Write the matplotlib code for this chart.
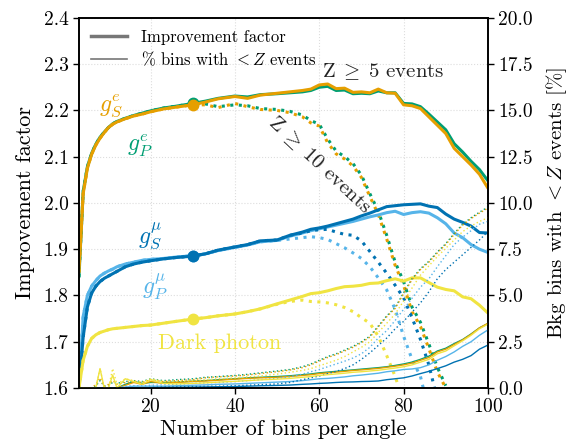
import numpy as np
import matplotlib
matplotlib.use("Agg")
import matplotlib.pyplot as plt
from matplotlib.lines import Line2D

plt.rcParams['font.family'] = 'serif'
plt.rcParams['font.serif'] = ['cmr10', 'DejaVu Serif']
plt.rcParams['mathtext.fontset'] = 'cm'
plt.rcParams['axes.unicode_minus'] = False
plt.rcParams['axes.formatter.use_mathtext'] = True

nan = np.nan

# number of bins per angle
bins = [3, 4, 5, 6, 7, 8, 9, 10, 11, 12, 14, 16, 18, 20, 23, 26, 30, 33, 36, 40,
        43, 46, 50, 53, 56, 58, 60, 62, 64, 66, 68, 70, 72, 74, 76, 78, 80, 82, 84, 86,
        88, 90, 92, 94, 96, 98, 100]

# improvement factor, Z >= 5
imp5_gSe = [1.85, 2.02, 2.075, 2.105, 2.125, 2.14, 2.152, 2.163, 2.17, 2.175,
            2.182, 2.188, 2.192, 2.197, 2.203, 2.207, 2.212, 2.218, 2.225, 2.230,
            2.226, 2.233, 2.237, 2.240, 2.243, 2.246, 2.255, 2.257, 2.247, 2.248,
            2.239, 2.240, 2.238, 2.246, 2.238, 2.237, 2.212, 2.210, 2.204, 2.186,
            2.168, 2.150, 2.118, 2.100, 2.082, 2.062, 2.032]
imp5_gPe = [1.84, 2.025, 2.078, 2.107, 2.127, 2.142, 2.153, 2.163, 2.171, 2.176,
            2.183, 2.189, 2.194, 2.199, 2.205, 2.209, 2.215, 2.220, 2.226, 2.231,
            2.229, 2.234, 2.236, 2.238, 2.240, 2.243, 2.250, 2.252, 2.243, 2.244,
            2.236, 2.237, 2.236, 2.242, 2.238, 2.238, 2.215, 2.214, 2.208, 2.192,
            2.175, 2.158, 2.128, 2.110, 2.090, 2.072, 2.048]
imp5_gSmu = [1.60, 1.71, 1.775, 1.805, 1.82, 1.83, 1.837, 1.842, 1.847, 1.852,
             1.862, 1.868, 1.872, 1.875, 1.879, 1.882, 1.885, 1.890, 1.898, 1.905,
             1.910, 1.918, 1.920, 1.930, 1.937, 1.943, 1.946, 1.950, 1.955, 1.960,
             1.965, 1.972, 1.978, 1.985, 1.992, 1.994, 1.996, 1.997, 1.998, 1.993,
             1.990, 1.976, 1.965, 1.958, 1.950, 1.936, 1.935]
imp5_gPmu = [1.60, 1.755, 1.80, 1.82, 1.832, 1.842, 1.848, 1.853, 1.857, 1.862,
             1.868, 1.872, 1.876, 1.878, 1.880, 1.883, 1.886, 1.890, 1.897, 1.904,
             1.909, 1.916, 1.919, 1.928, 1.935, 1.940, 1.944, 1.948, 1.952, 1.956,
             1.960, 1.965, 1.970, 1.974, 1.979, 1.982, 1.975, 1.979, 1.981, 1.978,
             1.968, 1.955, 1.935, 1.925, 1.910, 1.900, 1.893]
imp5_dp = [1.60, 1.66, 1.69, 1.707, 1.715, 1.72, 1.723, 1.726, 1.728, 1.729,
           1.731, 1.733, 1.735, 1.736, 1.740, 1.744, 1.749, 1.752, 1.756, 1.760,
           1.765, 1.771, 1.782, 1.790, 1.798, 1.804, 1.806, 1.810, 1.815, 1.819,
           1.820, 1.822, 1.826, 1.827, 1.832, 1.836, 1.831, 1.838, 1.838, 1.828,
           1.818, 1.813, 1.810, 1.797, 1.793, 1.779, 1.762]

# improvement factor, Z >= 10
imp10_gSe = [1.85, 2.02, 2.075, 2.105, 2.125, 2.14, 2.152, 2.163, 2.17, 2.175,
             2.182, 2.188, 2.192, 2.197, 2.203, 2.207, 2.212, 2.212, 2.206, 2.215,
             2.208, 2.202, 2.200, 2.195, 2.186, 2.173, 2.166, 2.130, 2.106, 2.095,
             2.080, 2.055, 2.014, 1.975, 1.922, 1.865, 1.822, 1.765, 1.733, 1.685,
             1.635, 1.600, nan, nan, nan, nan, nan]
imp10_gPe = [1.84, 2.025, 2.078, 2.107, 2.127, 2.142, 2.153, 2.163, 2.171, 2.176,
             2.183, 2.189, 2.194, 2.199, 2.205, 2.209, 2.215, 2.214, 2.208, 2.212,
             2.210, 2.204, 2.202, 2.198, 2.190, 2.178, 2.170, 2.138, 2.112, 2.100,
             2.085, 2.060, 2.020, 1.982, 1.930, 1.872, 1.830, 1.775, 1.742, 1.695,
             1.645, 1.605, nan, nan, nan, nan, nan]
imp10_gSmu = [1.60, 1.71, 1.775, 1.805, 1.82, 1.83, 1.837, 1.842, 1.847, 1.852,
              1.862, 1.868, 1.872, 1.875, 1.879, 1.882, 1.885, 1.890, 1.898, 1.905,
              1.910, 1.918, 1.920, 1.930, 1.935, 1.940, 1.942, 1.943, 1.937, 1.932,
              1.930, 1.918, 1.895, 1.872, 1.848, 1.822, 1.795, 1.752, 1.705, 1.650,
              1.575, nan, nan, nan, nan, nan, nan]
imp10_gPmu = [1.60, 1.755, 1.80, 1.82, 1.832, 1.842, 1.848, 1.853, 1.857, 1.862,
              1.868, 1.872, 1.876, 1.878, 1.880, 1.883, 1.886, 1.890, 1.897, 1.904,
              1.909, 1.916, 1.919, 1.922, 1.925, 1.927, 1.925, 1.921, 1.912, 1.903,
              1.892, 1.880, 1.862, 1.838, 1.812, 1.770, 1.712, 1.662, 1.625, 1.550,
              nan, nan, nan, nan, nan, nan, nan]
imp10_dp = [1.60, 1.66, 1.69, 1.707, 1.715, 1.72, 1.723, 1.726, 1.728, 1.729,
            1.731, 1.733, 1.735, 1.736, 1.740, 1.744, 1.749, 1.752, 1.756, 1.760,
            1.765, 1.771, 1.781, 1.787, 1.790, 1.787, 1.786, 1.784, 1.780, 1.774,
            1.765, 1.752, 1.740, 1.712, 1.670, 1.625, 1.570, nan, nan, nan,
            nan, nan, nan, nan, nan, nan, nan]

# % bkg bins with < 5 events
pct5_gSe = [0, 0, 0, 0, 0, 0, 0, 0, 0, 0,
            0.15, 0.3, 0.2, 0.35, 0.25, 0.3, 0.35, 0.38, 0.42, 0.48,
            0.52, 0.55, 0.58, 0.62, 0.68, 0.72, 0.78, 0.82, 0.86, 0.9,
            0.95, 0.98, 1.02, 1.06, 1.12, 1.18, 1.25, 1.35, 1.5, 1.65,
            1.95, 2.1, 2.35, 2.6, 2.9, 3.25, 3.5]
pct5_gPe = [0, 0, 0, 0, 0, 0, 0, 0, 0, 0,
            0.2, 0.35, 0.25, 0.3, 0.3, 0.32, 0.37, 0.4, 0.45, 0.5,
            0.55, 0.58, 0.62, 0.66, 0.72, 0.76, 0.82, 0.86, 0.9, 0.94,
            0.98, 1.02, 1.06, 1.1, 1.15, 1.22, 1.3, 1.4, 1.55, 1.72,
            2.0, 2.15, 2.4, 2.62, 2.92, 3.25, 3.48]
pct5_gSmu = [0, 0, 0, 0, 0, 0, 0, 0, 0, 0,
             0, 0, 0, 0.02, 0.03, 0.04, 0.05, 0.06, 0.07, 0.08,
             0.1, 0.12, 0.14, 0.16, 0.2, 0.22, 0.25, 0.27, 0.3, 0.32,
             0.33, 0.35, 0.36, 0.38, 0.45, 0.5, 0.55, 0.65, 0.78, 0.9,
             1.05, 1.2, 1.4, 1.55, 1.75, 2.1, 2.32]
pct5_gPmu = [0, 0, 0, 0, 0, 0, 0, 0, 0, 0,
             0.05, 0.1, 0.1, 0.1, 0.1, 0.12, 0.15, 0.17, 0.2, 0.22,
             0.25, 0.28, 0.32, 0.35, 0.4, 0.45, 0.5, 0.52, 0.56, 0.6,
             0.66, 0.7, 0.75, 0.8, 0.88, 0.93, 1.0, 1.03, 1.1, 1.25,
             1.5, 1.7, 1.95, 2.25, 2.5, 2.85, 3.14]
pct5_dp = [0, 0, 0, 0, 0, 1.05, 0, 0, 0.7, 0,
           0.5, 0.35, 0.2, 0.45, 0.25, 0.22, 0.25, 0.28, 0.32, 0.36,
           0.4, 0.44, 0.48, 0.52, 0.58, 0.62, 0.68, 0.72, 0.76, 0.8,
           0.85, 0.88, 0.92, 0.96, 1.02, 1.08, 1.15, 1.25, 1.4, 1.55,
           1.85, 2.0, 2.28, 2.55, 2.85, 3.2, 3.45]

# % bkg bins with < 10 events
pct10_gSe = [0, 0, 0, 0, 0.2, 0.55, 0.1, 0.2, 0.4, 0.2,
             0.3, 0.35, 0.3, 0.45, 0.35, 0.4, 0.45, 0.55, 0.6, 0.65,
             0.7, 0.78, 0.88, 0.97, 1.1, 1.25, 1.45, 1.65, 1.8, 2.0,
             2.2, 2.45, 2.75, 3.3, 3.85, 4.3, 5.1, 5.85, 6.4, 6.8,
             7.3, 7.75, 8.3, 8.8, 9.15, 9.45, 9.72]
pct10_gPe = [0, 0, 0, 0, 0.1, 0.4, 0.1, 0.15, 0.3, 0.25,
             0.35, 0.4, 0.35, 0.5, 0.4, 0.45, 0.5, 0.58, 0.62, 0.68,
             0.74, 0.82, 0.92, 1.0, 1.15, 1.3, 1.5, 1.7, 1.85, 2.05,
             2.25, 2.5, 2.8, 3.35, 3.9, 4.35, 5.15, 5.9, 6.45, 6.85,
             7.35, 7.8, 8.35, 8.85, 9.2, 9.5, 9.78]
pct10_gSmu = [0, 0, 0, 0, 0, 0, 0, 0, 0, 0,
              0, 0, 0.02, 0.03, 0.05, 0.06, 0.08, 0.09, 0.1, 0.12,
              0.15, 0.18, 0.22, 0.3, 0.45, 0.55, 0.65, 0.78, 0.9, 1.05,
              1.25, 1.55, 1.9, 2.3, 2.7, 3.2, 3.6, 4.1, 4.6, 5.2,
              5.9, 6.4, 6.8, 7.2, 7.6, 8.0, 8.45]
pct10_gPmu = [0, 0, 0, 0, 0, 0, 0, 0, 0, 0,
              0.1, 0.12, 0.12, 0.15, 0.17, 0.2, 0.25, 0.28, 0.3, 0.35,
              0.4, 0.45, 0.52, 0.6, 0.75, 0.88, 1.0, 1.15, 1.3, 1.45,
              1.62, 1.85, 2.2, 2.7, 3.1, 3.65, 4.25, 4.85, 5.45, 5.9,
              6.55, 7.15, 7.75, 8.15, 8.5, 8.85, 9.0]
pct10_dp = [0, 0, 0, 0, 0, 1.05, 0, 0, 1.05, 0.2,
            0.5, 0.4, 0.3, 0.5, 0.35, 0.35, 0.4, 0.45, 0.5, 0.55,
            0.6, 0.65, 0.75, 0.85, 0.95, 1.05, 1.2, 1.35, 1.5, 1.7,
            1.95, 2.2, 2.5, 3.0, 3.5, 4.0, 4.7, 5.4, 6.1, 6.6,
            7.1, 7.55, 8.0, 8.45, 8.75, 9.0, 9.2]

marker_bins = 30

c_orange = '#E69F00'
c_green = '#009E73'
c_dblue = '#0072B2'
c_lblue = '#56B4E9'
c_yellow = '#F0E442'

# drawing order: back to front
curves = [
    (c_green, imp5_gPe, imp10_gPe, pct5_gPe, pct10_gPe),
    (c_orange, imp5_gSe, imp10_gSe, pct5_gSe, pct10_gSe),
    (c_lblue, imp5_gPmu, imp10_gPmu, pct5_gPmu, pct10_gPmu),
    (c_dblue, imp5_gSmu, imp10_gSmu, pct5_gSmu, pct10_gSmu),
    (c_yellow, imp5_dp, imp10_dp, pct5_dp, pct10_dp),
]

fig = plt.figure(figsize=(5.68, 4.46), dpi=100)
ax = fig.add_axes([0.139, 0.130, 0.720, 0.830])
ax2 = ax.twinx()

x = np.array(bins)
im = bins.index(marker_bins)
for col, i5, i10, p5, p10 in curves:
    ax.plot(x, i5, color=col, lw=2.2, solid_capstyle='round')
    ax.plot(x, i10, color=col, lw=2.2, ls=(0, (1, 1.8)))
    ax.plot(marker_bins, i5[im], 'o', color=col, ms=7.5)
    ax2.plot(x, p5, color=col, lw=1.0)
    ax2.plot(x, p10, color=col, lw=1.0, ls=(0, (1, 1.8)))

ax.set_xlim(3, 100)
ax.set_ylim(1.6, 2.4)
ax2.set_ylim(0, 20)
ax.set_xticks([20, 40, 60, 80, 100])
ax.set_yticks(np.arange(1.6, 2.41, 0.1))
ax2.set_yticks(np.arange(0, 20.1, 2.5))
ax.yaxis.set_major_formatter(plt.FormatStrFormatter('%.1f'))
ax2.yaxis.set_major_formatter(plt.FormatStrFormatter('%.1f'))
ax.grid(True, color='#dddddd', ls=':', lw=0.8)
ax.set_axisbelow(True)

for a in (ax, ax2):
    a.tick_params(labelsize=14, length=4, width=1)
    for s in a.spines.values():
        s.set_linewidth(1.2)

ax.set_xlabel('Number of bins per angle', fontsize=16, labelpad=2)
ax.set_ylabel('Improvement factor', fontsize=16, labelpad=6)
ax2.set_ylabel(r'Bkg bins with $< Z$ events [%]', fontsize=15, labelpad=8)

tk = dict(fontsize=17, ha='center', va='center')
ax.text(10.7, 2.21, r'$g_S^e$', color=c_orange, **tk)
ax.text(17.4, 2.123, r'$g_P^e$', color=c_green, **tk)
ax.text(19.8, 1.929, r'$g_S^\mu$', color=c_dblue, **tk)
ax.text(21.0, 1.818, r'$g_P^\mu$', color=c_lblue, **tk)
ax.text(36.4, 1.697, 'Dark photon', color=c_yellow, fontsize=16, ha='center', va='center')
ax.text(75.2, 2.283, r'$\mathrm{Z}\;\geq\;5$ events', color='#222222', fontsize=15,
        ha='center', va='center')
ax.text(60.0, 2.082, r'$\mathrm{Z}\;\geq\;10$ events', color='#222222', fontsize=15,
        ha='center', va='center', rotation=-43, rotation_mode='anchor')

handles = [Line2D([], [], color='#777777', lw=2.5), Line2D([], [], color='#777777', lw=1.2)]
ax2.legend(handles, ['Improvement factor', r'% bins with $< Z$ events'], loc='upper left',
           frameon=False, fontsize=12, handlelength=2.2, borderaxespad=0.3, labelspacing=0.3)

fig.savefig('out.png', dpi=100)
